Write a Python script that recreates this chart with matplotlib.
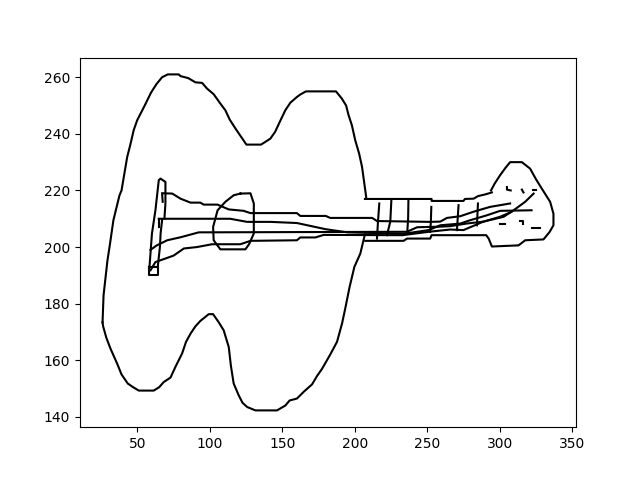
#!/usr/bin python3

import numpy as np
import matplotlib
matplotlib.use('Agg')
import matplotlib.pyplot as plt

# contorno do corpo
body_top = [(208, 217), (207.5, 219), (205, 228.3), (203, 233), (200.3, 237.7), (198, 243), (195.7, 246.6), (194, 250),
            (191, 252.5), (187, 255), (166.3, 255), (162.4, 253.9), (160, 253), (155.5, 251), (152, 248.3), (148, 244),
            (145, 240.7), (141.7, 238.3), (135.3, 236.2), (125.2, 236.2), (117.6, 241.9), (113.7, 245), (110.7, 248.3),
            (107.2, 250.7), (102.6, 254), (98, 256), (94.6, 258), (90, 258.2), (85, 259.7), (79.7, 260.4), (78.5, 261),
            (70.9, 261), (67, 260), (63, 257.5), (59.4, 254.6), (55, 250), (49.8, 244.8), (47.4, 241.3), (45, 236),
            (42.9, 231.8), (39, 220), (37.6, 218.3), (33.4, 209.5), (31, 201), (29.3, 195.3), (26.6, 183), (25.9, 173.4)]
body_bottom = [(25.9, 173.4), (26.3, 172), (28.5, 168), (31.4, 164.1), (36, 158.8), (39, 155), (43.3, 151.8), (47, 150.5),
               (50.9, 149.3), (61.2, 149.3), (65, 150.5), (68.1, 152.3), (72.8, 153.9), (76.5, 158), (80.8, 162.4),
               (83.5, 166.5), (86.6, 169.4), (90, 172), (93.4, 173.9), (99.2, 176.3), (102.2, 176.3), (106, 173.5),
               (109.5, 170.6), (113, 164.7), (114.5, 158), (116.4, 151.8), (119.9, 147.6), (122.5, 145), (125.7, 143.5),
               (131.4, 142.3), (146.3, 142.3), (152, 144), (155, 145.8), (160.1, 146.5), (165, 149), (170.5, 151.5),
               (174, 154.5), (177.4, 157), (183, 162), (187.7, 166.5), (191.2, 173), (193.4, 178.3), (196.4, 185.9),
               (199.7, 193), (203.8, 197.7), (206, 202.4), (207, 204.5)]

# braco e cabeca
neck_top = [(207, 217), (253, 217), (253, 216.3), (275, 216.3), (276, 217), (282, 217.1), (285, 218), (290, 218.6),
            (294.6, 219.3)]
head = [(294, 220), (296.5, 222.4), (300.3, 225.4), (304, 228), (307.2, 230), (315.3, 230), (321, 227.7), (325, 224),
        (329, 220.7), (334.8, 216), (337.1, 211.8), (337.1, 207.7), (334.4, 205.3), (330.2, 202.7), (317.6, 202.4),
        (313, 200.6), (294.6, 200.2), (292.4, 203), (290.7, 204.2), (253, 204.2), (252, 203), (236, 203), (233.7, 202.2),
        (207.2, 202.2)]

# cordas
string_a = [(68, 219), (74, 218.9), (79.7, 217.1), (86.6, 215.7), (93.4, 215.7), (95.7, 215), (105.3, 215), (113, 213.3),
            (123.3, 212.8), (128, 212), (160, 212), (162.4, 211), (180, 211), (183, 210.3), (212, 210.3), (215.3, 209.2),
            (252, 208.9), (259, 209), (263.6, 210.3), (272.8, 210.9), (282, 212.5), (293.4, 214.2), (307.2, 215.4)]
string_b = [(64.7, 210), (114, 210), (125.7, 208.9), (141.7, 208.9), (160, 208.5), (180, 206.3), (195, 205.2), (233.7, 204.7),
            (251, 206), (259, 207.7), (272.8, 208.3), (279.7, 209.5), (291, 211.2), (300.3, 212.8), (322, 213)]
string_c = [(59, 199), (63, 200.5), (70.5, 202.4), (80, 203.5), (92.3, 205.2), (236, 205.4), (243, 207), (249.8, 207.1),
            (259, 207.2), (266, 207.4), (277, 208.3), (289, 209), (300.3, 210.7), (308, 212.4)]
string_d = [(59, 191.8), (62.4, 194.7), (75, 197), (82, 199.5), (91, 200), (101.5, 201), (121, 201), (128, 202.2),
            (160, 202.4), (162.4, 203.4), (172.8, 203.4), (178.5, 204.3), (233, 204.2), (251, 205.4), (265.9, 206.2),
            (275, 206), (288.8, 209), (302.7, 210.7), (309.6, 213), (317.6, 216), (323.4, 218.9)]

# boca do violao
sound_hole = [(121, 218.9), (128, 219), (130.3, 215.4), (130.3, 204.8), (127, 201), (124.5, 199.2), (107.2, 199.2), (102.6, 202.4),
              (102.2, 207.1), (105.3, 213), (110.7, 216), (116.4, 218.3), (121, 218.9)]

# trastes
frets = [[(216.9, 215.4), (216, 209), (215.3, 203)],
         [(225.2, 216.3), (224.5, 209), (222.2, 204.2)],
         [(237, 216.3), (236.8, 210), (236.3, 206)],
         [(252.8, 214.2), (252.5, 209), (252, 205.4)],
         [(271.6, 214.8), (271, 210), (270.5, 206)],
         [(285, 215.4), (284.3, 207.7)]]

# cavalete
bridge_box = [(58.3, 193), (58.3, 190), (64, 190), (64, 193), (58.3, 193)]
bridge_left = [(58.3, 193), (60, 204.8), (62.4, 213), (64.7, 223.6), (65.9, 224.2), (69.3, 223), (69.3, 215.4), (68.6, 210)]
bridge_right = [(64, 193), (65.5, 200), (66, 205), (67, 209.5)]
bridge_dashes = [[(67, 219), (67.4, 216)], [(64.7, 210), (64.7, 207)]]

# tarraxas
pegs = [[(305, 221.2), (305, 220.3), (307.6, 220)],
        [(315.3, 220.3), (316.4, 219.3)],
        [(322.7, 220), (325.2, 220)],
        [(300.3, 208), (303.8, 208)],
        [(313.7, 209.2), (316.4, 209.2), (316.4, 208)],
        [(322, 206.9), (328, 206.9)]]

strokes = [body_top, body_bottom, neck_top, head, string_a, string_b, string_c, string_d,
           sound_hole, bridge_box, bridge_left, bridge_right] + frets + bridge_dashes + pegs

for stroke in strokes:
    pts = np.array(stroke)
    plt.plot(pts[:, 0], pts[:, 1], 'k')

plt.savefig('out.png')
